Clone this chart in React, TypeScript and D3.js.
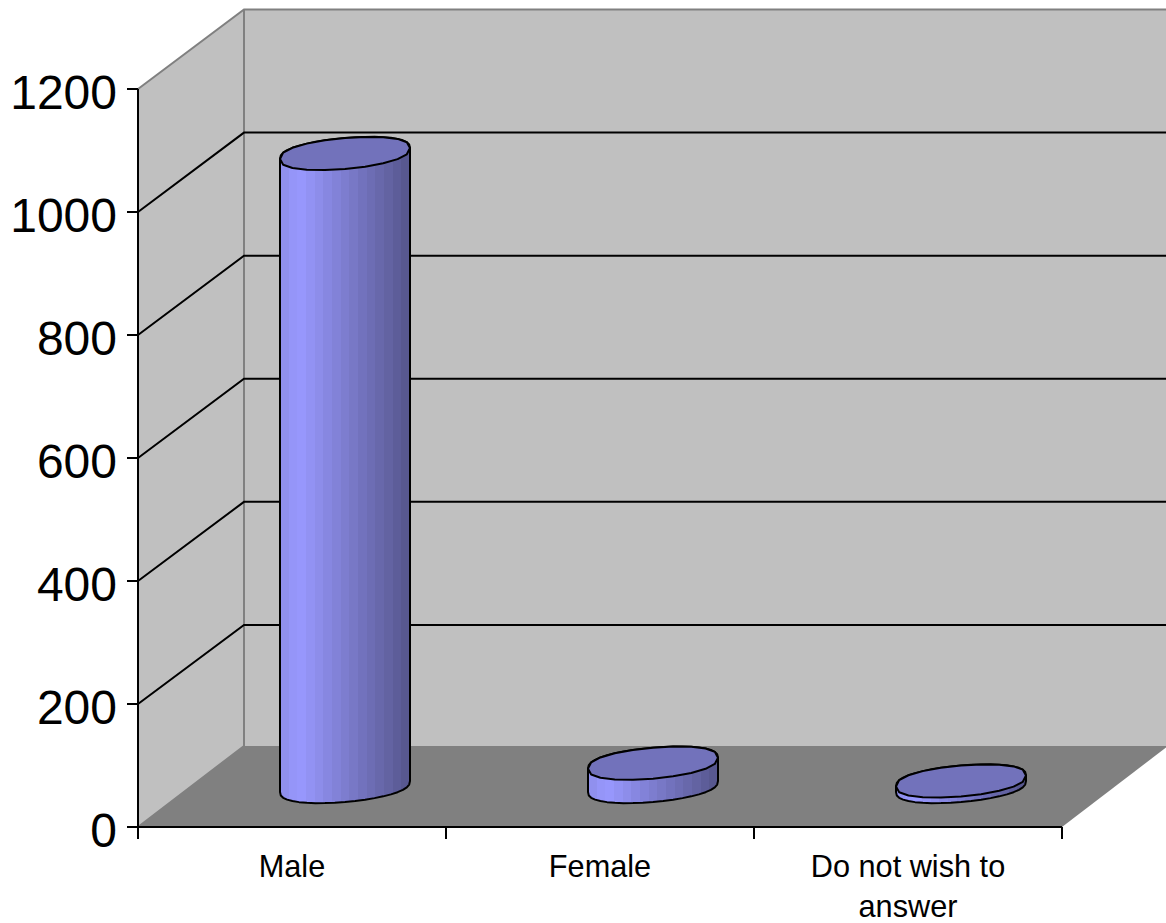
import React from "react";
import * as d3 from "d3";

const categories = ["Male", "Female", "Do not wish to answer"];
const categoryLines = [["Male"], ["Female"], ["Do not wish to", "answer"]];
const values = [1030, 38, 9];
const yTicks = [0, 200, 400, 600, 800, 1000, 1200];

const W = 1166;
const H = 923;
const front = { left: 138, right: 1062, bottom: 827, top: 89 };
const depth = { dx: 106, dy: -81 };
const floorBackY = 746;

const yFront = d3.scaleLinear().domain([0, 1200]).range([front.bottom, front.top]);
const yBack = d3.scaleLinear().domain([0, 1200]).range([748, 9.5]);
const yMid = d3.scaleLinear().domain([0, 1200]).range([786.5, 49]);
const xBand = d3.scaleBand<string>().domain(categories).range([front.left, front.right]);
const backX = front.left + depth.dx;

const RX = 65;
const RY = 15.5;
const TILT = -5.5;
const SEG = 20;
const POW = 0.8;
const line = d3.line<[number, number]>();

const spow = (v: number) => Math.sign(v) * Math.pow(Math.abs(v), POW);

function ringPoint(cx: number, cy: number, t: number): [number, number] {
  const c = Math.cos(t);
  return [cx + RX * c, cy + RY * spow(Math.sin(t)) + TILT * c];
}
function ring(cx: number, cy: number, from: number, to: number): [number, number][] {
  return d3.range(SEG + 1).map((i) => ringPoint(cx, cy, from + ((to - from) * i) / SEG));
}

const bandStops = d3.range(15).map((i) => {
  const f = i / 14;
  const color = f < 0.12
    ? d3.interpolateRgb("#9090ee", "#9999ff")(f / 0.12)
    : d3.interpolateRgb("#9999ff", "#585890")((f - 0.12) / 0.88);
  return { a: i / 15, b: (i + 1) / 15, color };
});

export default function App() {
  const corner = (x: number, y: number) => `${x},${y}`;
  return (
    <svg width={W} height={H} style={{ position: "fixed", left: 0, top: 0, background: "#fff" }} fontFamily="'Liberation Sans', Arial, sans-serif">
      <defs>
        <linearGradient id="cyl" x1="0" x2="1" y1="0" y2="0">
          {bandStops.flatMap((s, i) => [
            <stop key={`a${i}`} offset={s.a} stopColor={s.color} />,
            <stop key={`b${i}`} offset={s.b} stopColor={s.color} />,
          ])}
        </linearGradient>
      </defs>

      {/* back wall */}
      <rect x={backX} y={yBack(1200)} width={W - backX} height={floorBackY - yBack(1200)} fill="#c0c0c0" />
      {/* side wall */}
      <polygon
        points={[corner(front.left, yFront(1200)), corner(backX, yBack(1200)), corner(backX, floorBackY), corner(front.left, yFront(0))].join(" ")}
        fill="#c0c0c0"
      />
      {/* floor */}
      <polygon
        points={[corner(front.left, yFront(0)), corner(backX, floorBackY), corner(front.right + depth.dx, floorBackY), corner(front.right, yFront(0))].join(" ")}
        fill="#808080"
      />
      {/* wall edges */}
      <path
        d={`M${front.left},${yFront(1200)}L${backX},${yBack(1200)}H${W}M${backX},${yBack(1200)}V${floorBackY}L${front.left},${yFront(0)}`}
        fill="none"
        stroke="#808080"
        strokeWidth={2}
      />
      {/* gridlines */}
      {yTicks.filter((t) => t > 0 && t < 1200).map((t) => (
        <path key={t} d={`M${front.left},${yFront(t)}L${backX},${yBack(t)}H${W}`} fill="none" stroke="#000" strokeWidth={2} />
      ))}

      {/* cylinders */}
      {categories.map((c, i) => {
        const cx = (xBand(c) as number) + xBand.bandwidth() / 2 + depth.dx / 2;
        const base = yMid(0);
        const top = yMid(values[i]);
        const body = [...ring(cx, top, Math.PI, 2 * Math.PI), ...ring(cx, base, 0, Math.PI)];
        return (
          <g key={c} stroke="#000" strokeWidth={2} strokeLinejoin="round">
            <path d={line(body) + "Z"} fill="url(#cyl)" />
            <path d={line(ring(cx, top, 0, 2 * Math.PI)) + "Z"} fill="#7272bb" />
          </g>
        );
      })}

      {/* axes */}
      <path d={`M${front.left},${yFront(1200)}V${yFront(0)}H${front.right}`} fill="none" stroke="#000" strokeWidth={2} />
      {yTicks.map((t) => (
        <g key={t}>
          <line x1={front.left - 11} x2={front.left} y1={yFront(t)} y2={yFront(t)} stroke="#000" strokeWidth={2} />
          <text x={front.left - 21} y={yFront(t) + 20} textAnchor="end" fontSize={48} fill="#000">{t}</text>
        </g>
      ))}
      {[...categories.map((c) => xBand(c) as number), front.right].map((x) => (
        <line key={x} x1={x} x2={x} y1={front.bottom} y2={front.bottom + 12} stroke="#000" strokeWidth={2} />
      ))}
      {categories.map((c, i) => (
        <text key={c} textAnchor="middle" fontSize={30.7} fill="#000">
          {categoryLines[i].map((l, j) => (
            <tspan key={l} x={(xBand(c) as number) + xBand.bandwidth() / 2} y={877 + j * 40}>{l}</tspan>
          ))}
        </text>
      ))}
    </svg>
  );
}
